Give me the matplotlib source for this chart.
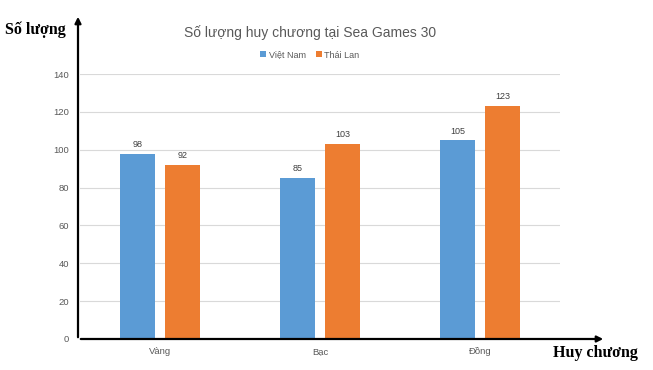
import numpy as np
import matplotlib
matplotlib.use('Agg')
import matplotlib.pyplot as plt
from matplotlib.patches import FancyArrowPatch

# data
categories = ["Vàng", "Bạc", "Đồng"]
viet_nam = [98, 85, 105]
thai_lan = [92, 103, 123]
series_names = ["Việt Nam", "Thái Lan"]
y_ticks = [0, 20, 40, 60, 80, 100, 120, 140]

blue = "#5B9BD5"
orange = "#ED7D31"
gray_txt = "#595959"

plt.rcParams['font.family'] = ['Liberation Sans', 'DejaVu Sans']

fig = plt.figure(figsize=(6.53, 3.70), dpi=100)
ax = fig.add_axes([80/653, 1-339/370, 480/653, (339-74)/370])

x = np.arange(len(categories))
w = 0.22
off = 0.14
b1 = ax.bar(x - off, viet_nam, w, color=blue, label=series_names[0], zorder=3)
b2 = ax.bar(x + off, thai_lan, w, color=orange, label=series_names[1], zorder=3)

for bars, vals in ((b1, viet_nam), (b2, thai_lan)):
    for r, v in zip(bars, vals):
        ax.text(r.get_x() + r.get_width()/2, v + 2.5, str(v), ha='center', va='bottom',
                fontsize=6.5, color="#404040")

ax.set_xlim(-0.5, len(categories) - 0.5)
ax.set_ylim(0, 140)
ax.set_yticks(y_ticks)
ax.set_xticks(x)
ax.set_xticklabels(categories)
ax.tick_params(axis='both', length=0, labelsize=6.8, labelcolor=gray_txt)
ax.tick_params(axis='y', pad=8)
ax.tick_params(axis='x', pad=6)
ax.grid(axis='y', color="#D9D9D9", linewidth=0.8, zorder=0)
for s in ax.spines.values():
    s.set_visible(False)

# title and legend placed in figure coords
fig.text(310/653, 1-33/370, "Số lượng huy chương tại Sea Games 30", fontsize=10,
         color=gray_txt, ha='center', va='center')

leg = fig.legend(handles=[b1, b2], labels=series_names, loc='center',
                 bbox_to_anchor=(310/653, 1-55/370), ncol=2, frameon=False,
                 fontsize=6.5, handlelength=0.6, handleheight=0.6,
                 columnspacing=1.2, handletextpad=0.3)
for t in leg.get_texts():
    t.set_color(gray_txt)

# hand drawn axis arrows
arrow = dict(arrowstyle='-|>', color='black', lw=1.6, mutation_scale=9)
fig.add_artist(FancyArrowPatch((78/653, 1-340/370), (78/653, 1-14/370),
               transform=fig.transFigure, **arrow))
fig.add_artist(FancyArrowPatch((78/653, 1-339/370), (606/653, 1-339/370),
               transform=fig.transFigure, **arrow))

fig.text(5/653, 1-30/370, "Số lượng", fontsize=11.5, fontweight='bold',
         family=['Liberation Serif', 'DejaVu Serif'], ha='left', va='center')
fig.text(638/653, 1-353/370, "Huy chương", fontsize=11.5, fontweight='bold',
         family=['Liberation Serif', 'DejaVu Serif'], ha='right', va='center')

fig.savefig("out.png", dpi=100)
